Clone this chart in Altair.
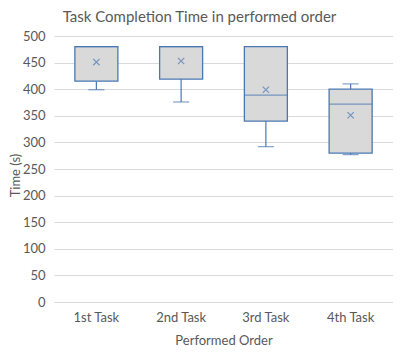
import altair as alt
import pandas as pd

tasks = ["1st Task", "2nd Task", "3rd Task", "4th Task"]
mins = [399, 376, 292, 277]
q1s = [415, 419, 340, 280]
medians = [480, 480, 389, 372]
q3s = [480, 480, 480, 400]
maxs = [480, 480, 480, 410]
means = [451, 453, 399, 351]
y_ticks = [0, 50, 100, 150, 200, 250, 300, 350, 400, 450, 500]

df = pd.DataFrame({"task": tasks, "min": mins, "q1": q1s, "median": medians,
                   "q3": q3s, "max": maxs, "mean": means})

FONT = "Lato"
GREY = "#595959"
BLUE = "#4a78b4"

xenc = alt.X("task:N", sort=tasks, title="Performed Order",
             scale=alt.Scale(paddingInner=0, paddingOuter=0),
             axis=alt.Axis(labelAngle=0, ticks=False, domainColor="#d9d9d9",
                           labelColor=GREY, labelFontSize=13, labelFont=FONT,
                           labelPadding=9, titleColor=GREY, titleFontSize=13,
                           titleFont=FONT, titleFontWeight="normal", titlePadding=10))


def Y(field):
    return alt.Y(field, type="quantitative", title="Time (s)",
                 scale=alt.Scale(domain=[0, 500], nice=False),
                 axis=alt.Axis(values=y_ticks, domain=False, ticks=False,
                               labelOverlap=False, gridColor="#d9d9d9",
                               labelColor=GREY, labelFontSize=13, labelFont=FONT,
                               labelPadding=9, titleColor=GREY, titleFontSize=13,
                               titleFont=FONT, titleFontWeight="normal",
                               titleX=-39, titleY=139, titleAngle=-90,
                               titleAlign="center", titleBaseline="middle"))


base = alt.Chart(df)

whisk_lo = base.mark_rule(color=BLUE, strokeWidth=1.2).encode(
    x=xenc, y=Y("min"), y2="q1:Q")
whisk_hi = base.mark_rule(color=BLUE, strokeWidth=1.2).encode(
    x=xenc, y=Y("q3"), y2="max:Q")
cap_lo = base.mark_tick(color=BLUE, size=16, thickness=1.2).encode(x=xenc, y=Y("min"))
cap_hi = base.mark_tick(color=BLUE, size=16, thickness=1.2).encode(x=xenc, y=Y("max"))
box = base.mark_bar(size=43, fill="#d9d9d9", stroke=BLUE, strokeWidth=1.3).encode(
    x=xenc, y=Y("q1"), y2="q3:Q")
med = base.mark_tick(color=BLUE, size=43, thickness=1.3).encode(x=xenc, y=Y("median"))
mean = base.mark_point(shape="M-1,-1L1,1M-1,1L1,-1", size=40, color=BLUE,
                       strokeWidth=1.2, filled=False).encode(x=xenc, y=Y("mean"))

chart = alt.layer(whisk_lo, whisk_hi, cap_lo, cap_hi, box, med, mean).properties(
    width=339, height=266,
    title=alt.TitleParams("Task Completion Time in performed order", font=FONT,
                          fontSize=15, fontWeight="normal", color=GREY,
                          anchor="middle", frame="group", dx=-24, offset=5),
    autosize=alt.AutoSizeParams(type="none"),
    padding={"left": 46, "top": 28, "right": 0, "bottom": 44},
).configure_view(stroke=None)

chart.save("out.html", embed_options={"renderer": "svg", "actions": False})
